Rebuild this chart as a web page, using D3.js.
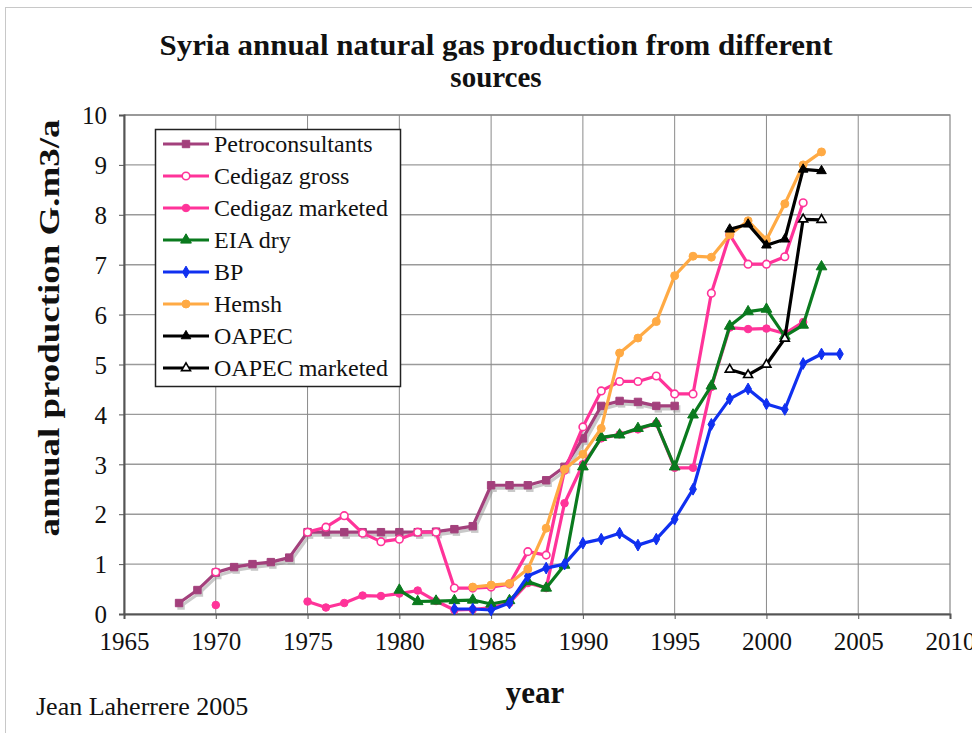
<!DOCTYPE html>
<html>
<head>
<meta charset="utf-8">
<script src="https://d3js.org/d3.v7.min.js"></script>
<style>
  body { margin: 0; background: #fff; }
  text { font-family: "Liberation Serif", "Times New Roman", serif; }
</style>
</head>
<body>
<svg id="chart" width="972" height="733"></svg>
<script>
  // ---- data (G.m3/a) ----
  var xTicks = [1965, 1970, 1975, 1980, 1985, 1990, 1995, 2000, 2005, 2010];
  var yTicks = [0, 1, 2, 3, 4, 5, 6, 7, 8, 9, 10];

  var petroStart = 1968;
  var petro = [0.22, 0.48, 0.83, 0.94, 1.0, 1.04, 1.13, 1.64, 1.64, 1.64, 1.64, 1.64, 1.64, 1.64,
               1.65, 1.7, 1.76, 2.58, 2.58, 2.58, 2.68, 2.95, 3.52, 4.17, 4.27, 4.25, 4.17, 4.17];

  var cedGrossStart = 1970;
  var cedGross = [0.84, null, null, null, null, 1.64, 1.74, 1.97, 1.62, 1.45, 1.5, 1.64, 1.64,
                  0.52, 0.52, 0.54, 0.6, 1.25, 1.18, 2.88, 3.75, 4.47, 4.66, 4.66, 4.77, 4.41,
                  4.41, 6.43, 7.6, 7.01, 7.01, 7.16, 8.24];

  var cedMktStart = 1970;
  var cedMkt = [0.18, null, null, null, null, 0.25, 0.13, 0.22, 0.37, 0.36, 0.41, 0.47, 0.26,
                0.08, 0.09, 0.13, 0.22, 0.62, 0.52, 2.22, 3.0, 3.52, 3.6, 3.7, 3.82, 2.93,
                2.93, 4.55, 5.74, 5.71, 5.72, 5.62, 5.85];

  var eiaStart = 1980;
  var eia = [0.48, 0.25, 0.26, 0.27, 0.28, 0.2, 0.27, 0.65, 0.52, 0.98, 2.95, 3.54, 3.59, 3.72,
             3.82, 2.95, 3.99, 4.57, 5.77, 6.06, 6.11, 5.57, 5.79, 6.96];

  var bpStart = 1983;
  var bp = [0.1, 0.1, 0.08, 0.22, 0.76, 0.92, 1.0, 1.42, 1.5, 1.62, 1.38, 1.5, 1.9, 2.5, 3.8,
            4.31, 4.51, 4.21, 4.1, 5.02, 5.21, 5.21];

  var hemshStart = 1984;
  var hemsh = [0.54, 0.58, 0.61, 0.9, 1.72, 2.9, 3.2, 3.72, 5.23, 5.53, 5.86, 6.78, 7.17, 7.15,
               7.6, 7.88, 7.5, 8.22, 9.0, 9.26];

  var oapecStart = 1998;
  var oapec = [7.71, 7.81, 7.39, 7.51, 8.91, 8.88];

  var oapecMktStart = 1998;
  var oapecMkt = [4.9, 4.79, 5.0, 5.52, 7.91, 7.9];

  function toPoints(start, vals) {
    return vals.map(function(v, i) { return { year: start + i, value: v }; });
  }

  var series = [
    { name: "Petroconsultants", color: "#A3407C", symbol: d3.symbolSquare, size: 55, open: false, shadow: true, data: toPoints(petroStart, petro) },
    { name: "Cedigaz gross", color: "#FF3399", symbol: d3.symbolCircle, size: 45, open: true, data: toPoints(cedGrossStart, cedGross) },
    { name: "Cedigaz marketed", color: "#FF3399", symbol: d3.symbolCircle, size: 45, open: false, data: toPoints(cedMktStart, cedMkt) },
    { name: "EIA dry", color: "#0A7A1E", symbol: d3.symbolTriangle, size: 50, open: false, data: toPoints(eiaStart, eia) },
    { name: "BP", color: "#1030F0", symbol: d3.symbolDiamond, size: 40, open: false, data: toPoints(bpStart, bp) },
    { name: "Hemsh", color: "#FFAA44", symbol: d3.symbolCircle, size: 50, open: false, data: toPoints(hemshStart, hemsh) },
    { name: "OAPEC", color: "#000000", symbol: d3.symbolTriangle, size: 40, open: false, data: toPoints(oapecStart, oapec) },
    { name: "OAPEC marketed", color: "#000000", symbol: d3.symbolTriangle, size: 35, open: true, data: toPoints(oapecMktStart, oapecMkt) }
  ];

  // ---- layout ----
  var svg = d3.select("#chart");
  var pLeft = 124, pRight = 950, pTop = 115, pBottom = 614;

  var x = d3.scaleLinear().domain([1965, 2010]).range([pLeft, pRight]);
  var y = d3.scaleLinear().domain([0, 10]).range([pBottom, pTop]);

  svg.append("rect").attr("width", 972).attr("height", 733).attr("fill", "#fff");
  // outer chart frame
  svg.append("rect").attr("x", 5.5).attr("y", 7.5).attr("width", 1000).attr("height", 1000)
    .attr("fill", "none").attr("stroke", "#c8c8c8").attr("stroke-width", 1);

  // gridlines
  var grid = svg.append("g");
  grid.selectAll("line.h").data(yTicks.slice(1)).enter().append("line")
    .attr("x1", pLeft).attr("x2", pRight)
    .attr("y1", function(d) { return y(d); }).attr("y2", function(d) { return y(d); })
    .attr("stroke", "#9a9a9a").attr("stroke-width", 1.4);
  grid.selectAll("line.v").data(xTicks.slice(1, -1)).enter().append("line")
    .attr("y1", pTop).attr("y2", pBottom)
    .attr("x1", function(d) { return x(d); }).attr("x2", function(d) { return x(d); })
    .attr("stroke", "#8a8a8a").attr("stroke-width", 1);
  svg.append("rect").attr("x", pLeft).attr("y", pTop).attr("width", pRight - pLeft).attr("height", pBottom - pTop)
    .attr("fill", "none").attr("stroke", "#888").attr("stroke-width", 1.2);

  // axes
  var xAxis = d3.axisBottom(x).tickValues(xTicks).tickFormat(d3.format("d")).tickSize(5).tickPadding(10);
  var yAxis = d3.axisLeft(y).tickValues(yTicks).tickSize(5).tickPadding(12);
  var gx = svg.append("g").attr("transform", "translate(0," + pBottom + ")").call(xAxis);
  var gy = svg.append("g").attr("transform", "translate(" + pLeft + ",0)").call(yAxis);
  [gx, gy].forEach(function(g) {
    g.select(".domain").attr("stroke", "#555").attr("stroke-width", 2);
    g.selectAll(".tick line").attr("stroke", "#555");
    g.selectAll(".tick text").attr("font-family", "Liberation Serif").attr("font-size", 25).attr("fill", "#111");
  });
  gx.selectAll(".tick text").attr("dy", "0.85em");
  gy.selectAll(".tick text").attr("dy", "0.35em");

  // series
  var line = d3.line()
    .defined(function(d) { return d.value !== null; })
    .x(function(d) { return x(d.year); })
    .y(function(d) { return y(d.value); });

  var plot = svg.append("g");
  series.forEach(function(s) {
    var pts = s.data.filter(function(d) { return d.value !== null; });
    if (s.shadow) {
      var sh = plot.append("g").attr("transform", "translate(2,3)").attr("opacity", 0.45);
      sh.append("path").datum(s.data).attr("d", line)
        .attr("fill", "none").attr("stroke", "#888").attr("stroke-width", 3.2);
      sh.selectAll("path.m").data(pts).enter().append("path")
        .attr("d", d3.symbol().type(s.symbol).size(s.size))
        .attr("transform", function(d) { return "translate(" + x(d.year) + "," + y(d.value) + ")"; })
        .attr("fill", "#888");
    }
    plot.append("path").datum(s.data).attr("d", line)
      .attr("fill", "none").attr("stroke", s.color).attr("stroke-width", 3.2)
      .attr("stroke-linejoin", "round");
    plot.append("g").selectAll("path").data(pts).enter().append("path")
      .attr("d", d3.symbol().type(s.symbol).size(s.size))
      .attr("transform", function(d) { return "translate(" + x(d.year) + "," + y(d.value) + ")"; })
      .attr("fill", s.open ? "#fff" : s.color)
      .attr("stroke", s.color).attr("stroke-width", s.open ? 1.6 : 1);
  });

  // legend
  var lg = svg.append("g");
  lg.append("rect").attr("x", 155.5).attr("y", 129.5).attr("width", 245).attr("height", 257)
    .attr("fill", "#fff").attr("stroke", "#222").attr("stroke-width", 1.5);
  var rows = lg.selectAll("g.row").data(series).enter().append("g")
    .attr("transform", function(d, i) { return "translate(0," + (144 + i * 32) + ")"; });
  rows.append("line").attr("x1", 163).attr("x2", 209).attr("y1", 0).attr("y2", 0)
    .attr("stroke", function(d) { return d.color; }).attr("stroke-width", 3.2);
  rows.append("path")
    .attr("d", function(d) { return d3.symbol().type(d.symbol).size(d.size)(); })
    .attr("transform", "translate(186,0)")
    .attr("fill", function(d) { return d.open ? "#fff" : d.color; })
    .attr("stroke", function(d) { return d.color; }).attr("stroke-width", function(d) { return d.open ? 1.6 : 1; });
  rows.append("text").attr("x", 214).attr("y", 0).attr("dy", "0.35em")
    .attr("font-size", 24).attr("fill", "#111")
    .text(function(d) { return d.name; });

  // titles
  svg.append("text").attr("x", 496).attr("y", 55).attr("text-anchor", "middle")
    .attr("font-size", 29).attr("font-weight", "bold").attr("fill", "#111")
    .attr("textLength", 673).attr("lengthAdjust", "spacingAndGlyphs")
    .text("Syria annual natural gas production from different");
  svg.append("text").attr("x", 496).attr("y", 87).attr("text-anchor", "middle")
    .attr("font-size", 29).attr("font-weight", "bold").attr("fill", "#111")
    .text("sources");
  svg.append("text").attr("transform", "translate(59,328) rotate(-90)").attr("text-anchor", "middle")
    .attr("font-size", 30).attr("font-weight", "bold").attr("fill", "#111")
    .attr("textLength", 417).attr("lengthAdjust", "spacingAndGlyphs")
    .text("annual production G.m3/a");
  svg.append("text").attr("x", 535).attr("y", 703).attr("text-anchor", "middle")
    .attr("font-size", 31).attr("font-weight", "bold").attr("fill", "#111")
    .text("year");
  svg.append("text").attr("x", 36).attr("y", 715)
    .attr("font-size", 26).attr("fill", "#111")
    .text("Jean Laherrere 2005");
</script>
</body>
</html>
